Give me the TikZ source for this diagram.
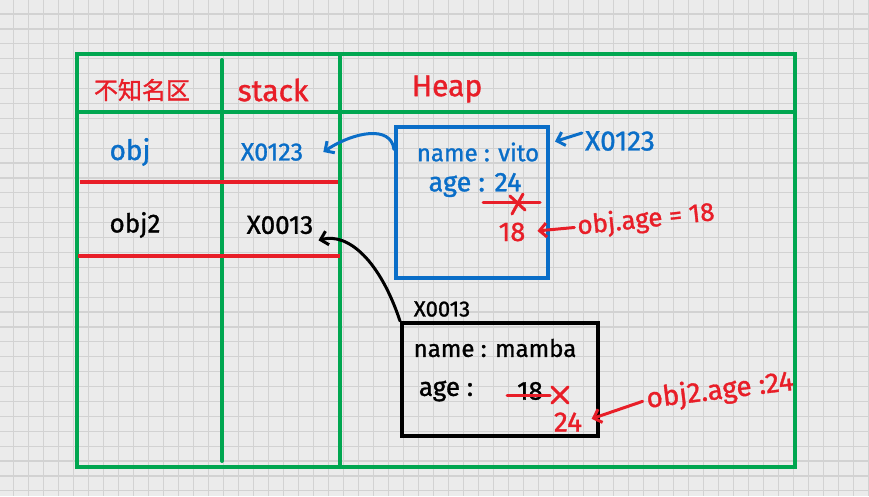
\documentclass[tikz,border=0pt]{standalone}
\usepackage{fontspec}
\setmainfont{Fira Sans}[FakeBold=1.2]
\newfontfamily\cjkfont{Noto Sans CJK SC}[FakeBold=1.2]
\usetikzlibrary{arrows.meta}

\definecolor{paper}{HTML}{EBEBEB}
\definecolor{gridgray}{HTML}{D2D2D2}
\definecolor{framegreen}{HTML}{00A650}
\definecolor{penred}{HTML}{E81E28}
\definecolor{penblue}{HTML}{0A6EC8}

\begin{document}
\begin{tikzpicture}[x=1pt,y=-1pt,
  >={Straight Barb[length=7pt,width=14pt]},
  gridline/.style={gridgray,line width=1.2pt},
  frameline/.style={framegreen,line width=4pt,line cap=round},
  rowline/.style={penred,line width=4pt},
  hand/.style={inner sep=0pt,font=\fontsize{24}{28}\selectfont},
  head/.style={inner sep=0pt,penred,font=\fontsize{30}{34}\selectfont},
  memobox/.style={draw,line width=4pt,inner sep=0pt},
  pen/.style={line width=3pt,line cap=round}]

% paper and grid
\useasboundingbox (0,0) rectangle (869,496);
\fill[paper] (0,0) rectangle (869,496);
\foreach \i in {0,...,57}
{
\draw[gridline] (13.5+15*\i,0) -- (13.5+15*\i,496);
}
\foreach \j in {0,...,32}
{
\draw[gridline] (0,14+14.9*\j) -- (869,14+14.9*\j);
}

% table frame
\draw[frameline] (77,54) rectangle (795,467);
\draw[frameline] (77,112) -- (795,112);
\draw[frameline] (222,60) -- (222,461);
\draw[frameline] (340,54) -- (340,467);
\draw[rowline] (80,182) -- (338,182);
\draw[rowline] (78,256) -- (340,256);

% headers
\node[head,font=\cjkfont\fontsize{24}{28}\selectfont] (zonehead) at (142,90) {不知名区};
\node[head] (stackhead) at (273,90) {stack};
\node[head] (heaphead) at (447,89) {Heap};

% stack entries
\node[hand,penblue,font=\fontsize{28}{32}\selectfont] (objname) at (130,152) {obj};
\node[hand,penblue,font=\fontsize{25}{30}\selectfont] (objaddr) at (272,152) {X0123};
\node[hand,font=\fontsize{26}{30}\selectfont] (objtwoname) at (135,225) {obj2};
\node[hand,font=\fontsize{26}{30}\selectfont] (objtwoaddr) at (280,225) {X0013};

% heap object of obj
\node[memobox,penblue,minimum width=152,minimum height=151] (objbox) at (472,202) {};
\node[hand,penblue] (vitoname) at (478,152) {name : vito};
\node[hand,penblue,font=\fontsize{27}{30}\selectfont] (vitoage) at (475,185) {age : 24};
\draw[pen,penred] (483,202) -- (540,202);
\draw[pen,penred] (523,194) -- (512,214);
\draw[pen,penred] (510,196) -- (525,210);
\node[hand,penred,font=\fontsize{27}{30}\selectfont] (vitonew) at (512,232) {18};
\node[hand,penblue,font=\fontsize{28}{32}\selectfont] (addrA) at (620,141) {X0123};
\node[hand,penred,font=\fontsize{26}{30}\selectfont,rotate=6] (setA) at (646,220) {obj.age = 18};

% heap object of obj2
\node[memobox,minimum width=196,minimum height=113] (objtwobox) at (500,379.5) {};
\node[hand,font=\fontsize{22}{26}\selectfont] (addrB) at (442,309) {X0013};
\node[hand] (mambaname) at (495,348) {name : mamba};
\node[hand,font=\fontsize{26}{30}\selectfont] (mambaage) at (446,391) {age :};
\node[hand,font=\fontsize{26}{30}\selectfont] (mambaold) at (530,391) {18};
\draw[pen,penred] (507,395) -- (550,395);
\draw[pen,penred] (552,387) -- (568,403);
\draw[pen,penred] (568,387) -- (552,403);
\node[hand,penred,font=\fontsize{28}{32}\selectfont] (mambanew) at (568,422) {24};
\node[hand,penred,font=\fontsize{28}{32}\selectfont,rotate=7] (setB) at (720,391) {obj2.age :24};

% references
\draw[pen,penblue,->] ([shift={(0,25)}]objbox.north west) .. controls +(-3,-25) and +(30,-20) .. ([xshift=20pt]objaddr.east);
\draw[pen,->] (objtwobox.north west) .. controls +(-20,-60) and +(30,-8) .. ([shift={(5,6)}]objtwoaddr.south east);
\draw[pen,penblue,->] ([shift={(-3,-8)}]addrA.west) -- ([shift={(5,17)}]objbox.north east);
\draw[pen,penred,->,shorten <=3pt,shorten >=12pt] (setA.west) -- (vitonew.east);
\draw[pen,penred,->,shorten <=4pt,shorten >=10pt] (setB.west) -- (mambanew.east);

\end{tikzpicture}
\end{document}
